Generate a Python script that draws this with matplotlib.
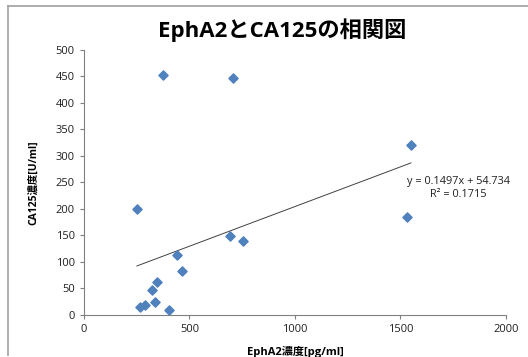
import numpy as np
import matplotlib.pyplot as plt
from matplotlib.lines import Line2D

plt.rcParams['font.family'] = ['Open Sans', 'Noto Sans CJK JP', 'DejaVu Sans']

# Data
epha2 = [251, 374, 706, 1550, 1531, 692, 754, 441, 464, 346, 322, 336, 265, 289, 403]
ca125 = [200, 453, 447, 321, 185, 149, 140, 113, 83, 62, 47, 25, 14, 19, 9]
slope = 0.1497
intercept = 54.734
eq_text = 'y = 0.1497x + 54.734\nR² = 0.1715'
x_ticks = [0, 500, 1000, 1500, 2000]
y_ticks = list(range(0, 501, 50))

fig = plt.figure(figsize=(5.28, 3.57), dpi=100)
ax = fig.add_axes([0.159, 0.118, 0.799, 0.742])

# chart border
fig.add_artist(Line2D([0.015, 0.015], [0.005, 0.983], color='#a0a0a0', lw=1.2))
fig.add_artist(Line2D([0.015, 1.0], [0.983, 0.983], color='#a0a0a0', lw=1.2))

ax.scatter(epha2, ca125, marker='D', s=22, color='#4F81BD', zorder=3)

# linear trendline
xs = np.array([min(epha2), max(epha2)])
ax.plot(xs, slope * xs + intercept, color='#404040', lw=0.7, zorder=2)

ax.text(1775, 240, eq_text, ha='center', va='center', fontsize=7.8,
        color='#202020', linespacing=1.2)

ax.set_xlim(0, 2000)
ax.set_ylim(0, 500)
ax.set_xticks(x_ticks)
ax.set_yticks(y_ticks)
ax.tick_params(labelsize=8, colors='#202020', length=3, width=0.8)
ax.tick_params(axis='both', color='#808080')
for s in ['top', 'right']:
    ax.spines[s].set_visible(False)
for s in ['left', 'bottom']:
    ax.spines[s].set_color('#808080')

ax.set_xlabel('EphA2濃度[pg/ml]', fontsize=8, fontweight='bold', labelpad=8)
ax.set_ylabel('CA125濃度[U/ml]', fontsize=7.5, fontweight='bold', labelpad=12)
fig.text(0.535, 0.915, 'EphA2とCA125の相関図', ha='center', va='center',
         fontsize=16, fontweight='bold')

fig.savefig('out.png', dpi=100)
